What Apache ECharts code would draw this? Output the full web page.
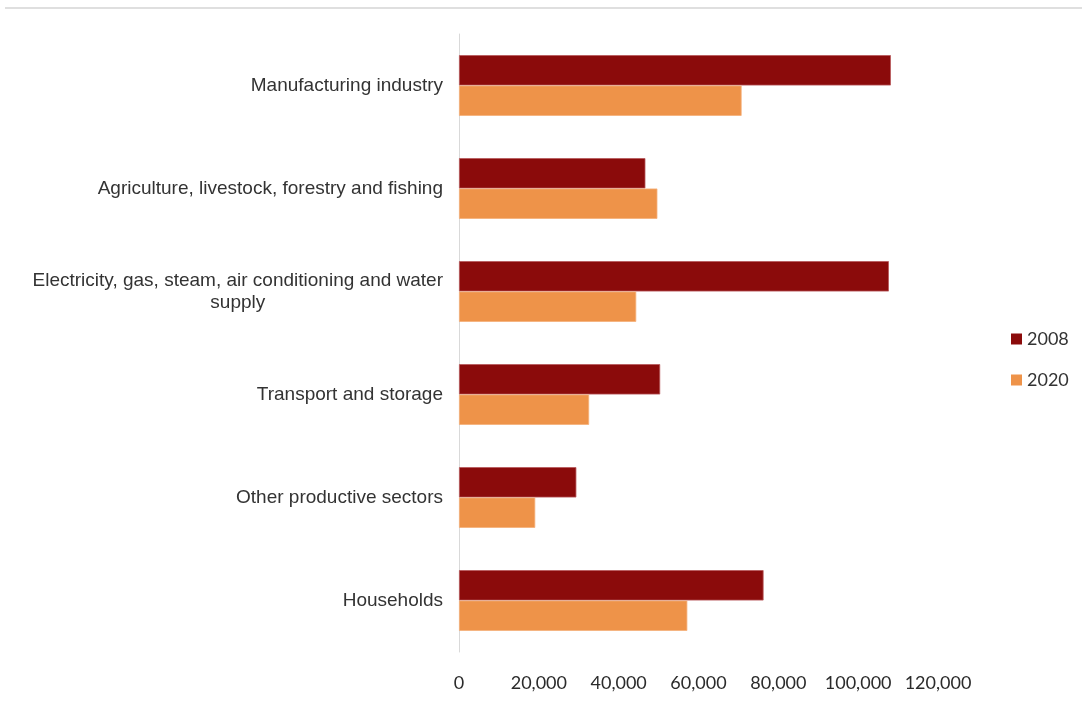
<!DOCTYPE html>
<html>
<head>
<meta charset="utf-8">
<script src="https://cdn.jsdelivr.net/npm/echarts@6/dist/echarts.min.js"></script>
<style>
html,body{margin:0;padding:0;background:#fff;}
#chart{width:1082px;height:702px;}
</style>
</head>
<body>
<div id="chart"></div>
<script>
const categories = [
  "Manufacturing industry",
  "Agriculture, livestock, forestry and fishing",
  "Electricity, gas, steam, air conditioning and water\nsupply",
  "Transport and storage",
  "Other productive sectors",
  "Households"
];
const seriesNames = ["2008", "2020"];
const values2008 = [108200, 46700, 107700, 50400, 29400, 76300];
const values2020 = [70800, 49700, 44400, 32600, 19100, 57200];
const xTicks = [0, 20000, 40000, 60000, 80000, 100000, 120000];

const chart = echarts.init(document.getElementById('chart'), null, {renderer: 'canvas'});
const option = {
  backgroundColor: '#ffffff',
  animation: false,
  graphic: [{
    type: 'line',
    shape: {x1: 5, y1: 8, x2: 1082, y2: 8},
    style: {stroke: '#d4d4d4', lineWidth: 1.5}
  }],
  grid: {left: 459, right: 144, top: 34, bottom: 50, containLabel: false},
  legend: {
    orient: 'vertical',
    left: 1006,
    top: 325,
    itemWidth: 11,
    itemHeight: 11,
    itemGap: 23,
    icon: 'rect',
    itemStyle: {borderWidth: 0},
    textStyle: {fontFamily: 'Lato', fontSize: 18, color: '#333333', padding: [0, 0, 0, 0]},
    data: seriesNames
  },
  xAxis: {
    type: 'value',
    min: xTicks[0],
    max: xTicks[xTicks.length - 1],
    interval: 20000,
    axisLine: {show: false},
    axisTick: {show: false},
    splitLine: {show: false},
    axisLabel: {
      margin: 22,
      fontFamily: 'Lato',
      fontSize: 18,
      color: '#2b2b2b',
      formatter: v => v.toLocaleString('en-US')
    }
  },
  yAxis: {
    type: 'category',
    inverse: true,
    data: categories,
    axisLine: {show: true, lineStyle: {color: '#d9d9d9', width: 1}},
    axisTick: {show: false},
    axisLabel: {
      margin: 16,
      fontFamily: 'Liberation Sans',
      fontSize: 19,
      color: '#333333',
      lineHeight: 22,
      formatter: function (v) {
        return v.split('\n').map(s => '{c|' + s + '}').join('\n');
      },
      rich: {c: {align: 'center', fontFamily: 'Liberation Sans', fontSize: 19, color: '#333333', lineHeight: 22}}
    }
  },
  series: [
    {
      name: seriesNames[0], type: 'bar', data: values2008,
      barGap: '0%', barCategoryGap: '41%',
      itemStyle: {color: '#8B0B0B', borderColor: '#b8585a', borderWidth: 0.8}
    },
    {
      name: seriesNames[1], type: 'bar', data: values2020,
      barGap: '0%', barCategoryGap: '41%',
      itemStyle: {color: '#EE9349', borderColor: '#f5b07a', borderWidth: 0.8}
    }
  ]
};
chart.setOption(option);
</script>
</body>
</html>
